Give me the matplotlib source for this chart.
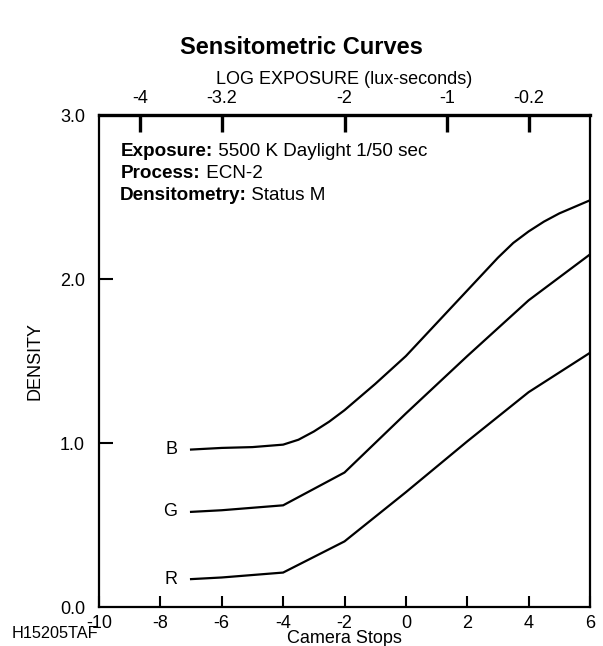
import matplotlib
matplotlib.use("Agg")
import matplotlib.pyplot as plt

plt.rcParams['font.family'] = ['Liberation Sans', 'DejaVu Sans']

# Data (camera stops vs density)
stops_b = [-7, -6, -5, -4, -3.5, -3, -2.5, -2, -1, 0, 1, 2, 3, 3.5, 4, 4.5, 5, 6]
dens_b = [0.96, 0.97, 0.975, 0.99, 1.02, 1.07, 1.13, 1.20, 1.36, 1.53, 1.73, 1.93, 2.13, 2.22, 2.29, 2.35, 2.40, 2.48]
stops_g = [-7, -6, -4, -2, 0, 2, 4, 5, 6]
dens_g = [0.58, 0.59, 0.62, 0.82, 1.18, 1.53, 1.87, 2.01, 2.15]
stops_r = [-7, -6, -4, -2, 0, 2, 4, 5, 6]
dens_r = [0.17, 0.18, 0.21, 0.40, 0.70, 1.01, 1.31, 1.43, 1.55]
curve_labels = ['B', 'G', 'R']

x_ticks = [-10, -8, -6, -4, -2, 0, 2, 4, 6]
y_ticks = [0.0, 1.0, 2.0, 3.0]
top_ticks = [-4, -3.2, -2, -1, -0.2]
top_tick_labels = ['-4', '-3.2', '-2', '-1', '-0.2']

def stops_to_log(s):
    return -1.4 + 0.3 * s

def log_to_stops(l):
    return (l + 1.4) / 0.3

FS = 13

fig = plt.figure(figsize=(6.03, 6.46), dpi=100)
ax = fig.add_axes([99/603, (646-607)/646, (590-99)/603, (607-115)/646])

for xs, ys, lab in zip([stops_b, stops_g, stops_r], [dens_b, dens_g, dens_r], curve_labels):
    ax.plot(xs, ys, color='black', lw=1.6, solid_joinstyle='miter')
    ax.text(xs[0] - 0.45, ys[0], lab, ha='right', va='center', fontsize=FS)

ax.set_xlim(-10, 6)
ax.set_ylim(0, 3)
ax.set_xticks(x_ticks)
ax.set_xticklabels([str(t) for t in x_ticks], fontsize=FS)
ax.set_yticks(y_ticks)
ax.set_yticklabels(['%.1f' % t for t in y_ticks], fontsize=FS)
ax.tick_params(axis='x', direction='in', length=8, width=1.5, pad=5.5)
ax.tick_params(axis='y', direction='in', length=10, width=1.5, pad=10)
for t in [ax.yaxis.get_major_ticks()[0], ax.yaxis.get_major_ticks()[-1]]:
    t.tick1line.set_visible(False)
for s in ax.spines.values():
    s.set_linewidth(1.6)
ax.spines['top'].set_linewidth(2.4)

ax.set_xlabel('Camera Stops', fontsize=FS, labelpad=-1.5)
ax.set_ylabel('DENSITY', fontsize=FS, labelpad=12)

sec = ax.secondary_xaxis('top', functions=(stops_to_log, log_to_stops))
sec.set_xticks(top_ticks)
sec.set_xticklabels(top_tick_labels, fontsize=FS)
sec.tick_params(direction='in', length=12, width=2.4, pad=6)
sec.spines['top'].set_visible(False)
sec.set_xlabel('LOG EXPOSURE (lux-seconds)', fontsize=FS, labelpad=4)

info_lines = [('Exposure:', ' 5500 K Daylight 1/50 sec', 0.045, 152),
              ('Process:', ' ECN-2', 0.045, 174),
              ('Densitometry:', ' Status M', 0.042, 196)]
for bold, normal, xf, ypx in info_lines:
    yf = (607 - ypx) / (607 - 115)
    t1 = ax.text(xf, yf, bold, transform=ax.transAxes, fontsize=13.6, fontweight='bold', ha='left', va='center')
    ax.annotate(normal, xycoords=t1, xy=(1, 0.5), va='center', ha='left', fontsize=13.6)

fig.text(0.5, 1 - 47/646, 'Sensitometric Curves', ha='center', va='center', fontsize=17, fontweight='bold')
fig.text(12/603, 1 - 634/646, 'H15205TAF', ha='left', va='center', fontsize=11.7)

fig.savefig('out.png', dpi=100)
